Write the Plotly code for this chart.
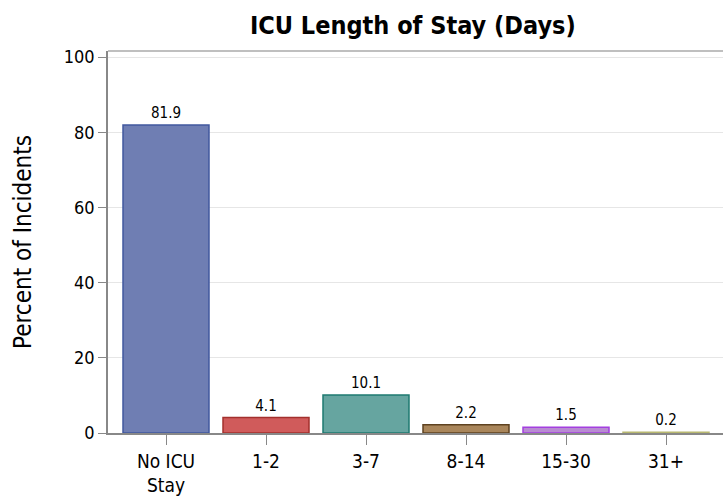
import plotly.graph_objects as go

categories = ["No ICU<br>Stay", "1-2", "3-7", "8-14", "15-30", "31+"]
values = [81.9, 4.1, 10.1, 2.2, 1.5, 0.2]
labels = ["81.9", "4.1", "10.1", "2.2", "1.5", "0.2"]
fill_colors = ["#6F7EB3", "#D05B5B", "#66A5A0", "#A9865B", "#B98BD2", "#C9C98A"]
line_colors = ["#41589F", "#A3302D", "#1E7A70", "#5E4220", "#A33FE0", "#B8B870"]

font = "DejaVu Sans Condensed, DejaVu Sans, sans-serif"

fig = go.Figure()
fig.add_trace(go.Bar(
    x=categories, y=values, text=labels, textposition="outside",
    textfont=dict(size=15, color="#000000", family=font),
    marker=dict(color=fill_colors, line=dict(color=line_colors, width=1.5)),
    width=0.86, cliponaxis=False,
))

fig.update_layout(
    width=723, height=499,
    margin=dict(l=108, r=0, t=51, b=66),
    paper_bgcolor="white", plot_bgcolor="white",
    title=dict(text="<b>ICU Length of Stay (Days)</b>", x=0.571, xanchor="center",
               y=0.95, yanchor="middle", font=dict(size=25, family=font, color="#000000")),
    showlegend=False,
    font=dict(family=font, color="#000000"),
)
fig.update_xaxes(
    range=[-0.58, 5.57], showline=True, linecolor="#888888", linewidth=1.5,
    ticks="outside", ticklen=10, tickcolor="#888888", tickwidth=1,
    tickfont=dict(size=19, family=font), showgrid=False, mirror=False,
    automargin=False,
)
fig.update_yaxes(
    range=[0, 101.6], showline=True, linecolor="#888888", linewidth=1.5,
    ticks="outside", ticklen=8, tickcolor="#888888",
    tickvals=[0, 20, 40, 60, 80, 100], tickfont=dict(size=18, family=font),
    showgrid=True, gridcolor="#E6E6E6", gridwidth=1, zeroline=False,
    title=dict(text="Percent of Incidents", font=dict(size=24, family=font), standoff=25),
    automargin=False,
)
fig.add_shape(type="line", xref="paper", yref="paper", x0=0, x1=1, y0=1, y1=1,
              line=dict(color="#AAAAAA", width=1.5))

fig.write_html("out.html", config={"displayModeBar": False},
               post_script="document.body.style.margin='0';document.body.style.overflow='hidden';")
